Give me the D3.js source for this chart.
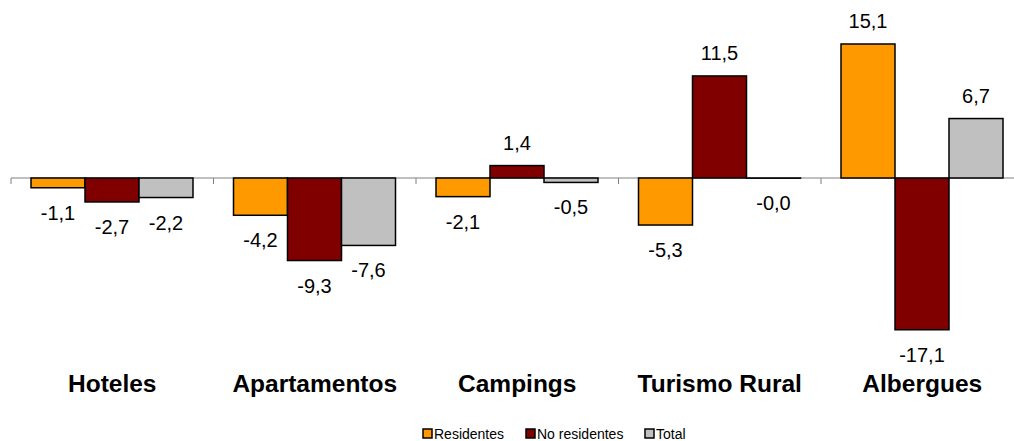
<!DOCTYPE html>
<html>
<head>
<meta charset="utf-8">
<script src="https://cdn.jsdelivr.net/npm/d3@7"></script>
<style>
  body { margin: 0; background: #fff; }
  text { font-family: Arial, "Liberation Sans", sans-serif; }
</style>
</head>
<body>
<svg id="chart" width="1014" height="441"></svg>
<script>
// Data
const categories = ["Hoteles", "Apartamentos", "Campings", "Turismo Rural", "Albergues"];
const seriesNames = ["Residentes", "No residentes", "Total"];
const residentes = [-1.1, -4.2, -2.1, -5.3, 15.1];
const noResidentes = [-2.7, -9.3, 1.4, 11.5, -17.1];
const total = [-2.2, -7.6, -0.5, -0.02, 6.7];
const colors = ["#FF9900", "#800000", "#C0C0C0"];

const seriesValues = [residentes, noResidentes, total];

const svg = d3.select("#chart");

// Scales
const x = d3.scaleBand()
  .domain(categories)
  .range([11, 1023.5])
  .paddingInner(0)
  .paddingOuter(0);

const xInner = d3.scaleBand()
  .domain(seriesNames)
  .range([20, x.bandwidth() - 20.5]);

const y = d3.scaleLinear()
  .domain([0, 15.1])
  .range([178, 44]);

// keep the sign on values that round to zero ("-0,0")
const fmt = (v) => (v < 0 ? "-" : "") + d3.format(".1f")(Math.abs(v)).replace(".", ",");

// Flatten data
const rows = [];
categories.forEach((c, i) => {
  seriesNames.forEach((s, j) => {
    rows.push({ cat: c, series: s, value: seriesValues[j][i], color: colors[j] });
  });
});

// Zero axis line with ticks between categories
svg.append("line")
  .attr("x1", 11).attr("x2", 1014)
  .attr("y1", y(0)).attr("y2", y(0))
  .attr("stroke", "#808080")
  .attr("stroke-width", 1);

svg.selectAll(".tick")
  .data(categories)
  .enter()
  .append("line")
  .attr("class", "tick")
  .attr("x1", (d) => x(d)).attr("x2", (d) => x(d))
  .attr("y1", y(0)).attr("y2", y(0) + 6)
  .attr("stroke", "#808080")
  .attr("stroke-width", 1);

// Bars
svg.selectAll(".bar")
  .data(rows)
  .enter()
  .append("rect")
  .attr("class", "bar")
  .attr("x", (d) => x(d.cat) + xInner(d.series))
  .attr("y", (d) => y(Math.max(0, d.value)))
  .attr("width", xInner.bandwidth())
  .attr("height", (d) => Math.abs(y(d.value) - y(0)))
  .attr("fill", (d) => d.color)
  .attr("stroke", "#000")
  .attr("stroke-width", 1.5);

// Value labels
svg.selectAll(".label")
  .data(rows)
  .enter()
  .append("text")
  .attr("class", "label")
  .attr("x", (d) => x(d.cat) + xInner(d.series) + xInner.bandwidth() / 2)
  .attr("y", (d) => d.value >= 0 ? y(d.value) - 16 : y(d.value) + 32)
  .attr("text-anchor", "middle")
  .attr("font-size", "20px")
  .attr("fill", "#000")
  .text((d) => fmt(d.value));

// Category labels
svg.selectAll(".cat")
  .data(categories)
  .enter()
  .append("text")
  .attr("class", "cat")
  .attr("x", (d) => x(d) + x.bandwidth() / 2)
  .attr("y", 392)
  .attr("text-anchor", "middle")
  .attr("font-size", "24.5px")
  .attr("font-weight", "bold")
  .attr("fill", "#000")
  .text((d) => d);

// Legend
const legendX = [423, 526, 645];
const legend = svg.selectAll(".legend")
  .data(seriesNames)
  .enter()
  .append("g")
  .attr("class", "legend")
  .attr("transform", (d, i) => `translate(${legendX[i]}, 434)`);

legend.append("rect")
  .attr("x", 0).attr("y", -5)
  .attr("width", 9).attr("height", 9)
  .attr("fill", (d, i) => colors[i])
  .attr("stroke", "#000")
  .attr("stroke-width", 1.5);

legend.append("text")
  .attr("x", 11)
  .attr("y", 5)
  .attr("font-size", "14px")
  .attr("fill", "#000")
  .text((d) => d);
</script>
</body>
</html>
